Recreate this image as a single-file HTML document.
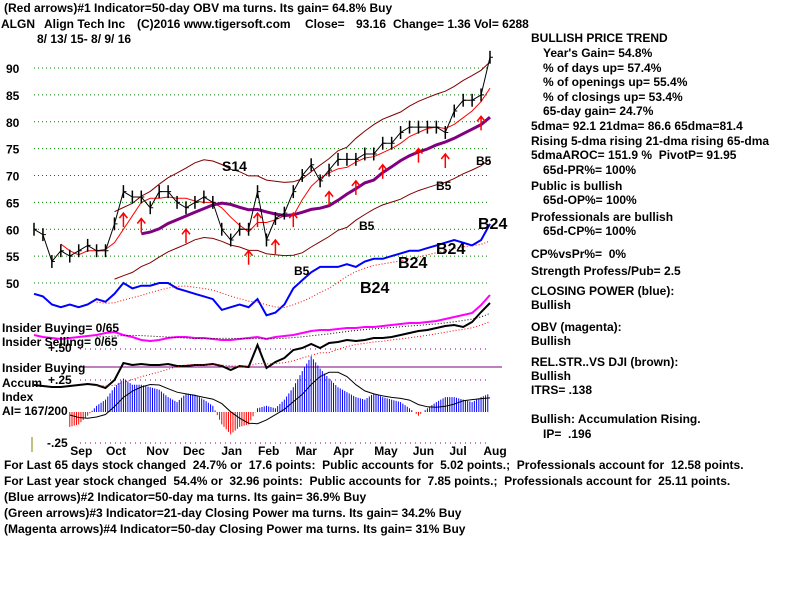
<!DOCTYPE html>
<html><head><meta charset="utf-8">
<style>
body{margin:0;background:#fff;}
svg text{font-family:"Liberation Sans",Arial,sans-serif;font-weight:bold;font-size:12px;fill:#000;white-space:pre;}
</style></head>
<body>
<svg id="c" width="800" height="600" viewBox="0 0 800 600" xmlns="http://www.w3.org/2000/svg" xml:space="preserve">
<rect width="800" height="600" fill="#fff"/>
<g>
<text x="4" y="12">(Red arrows)#1 Indicator=50-day OBV ma turns. Its gain= 64.8% Buy</text>
<text x="1" y="28">ALGN</text>
<text x="44" y="28">Align Tech Inc</text>
<text x="137" y="28">(C)2016 www.tigersoft.com</text>
<text x="305" y="28">Close=</text>
<text x="356" y="28">93.16</text>
<text x="393" y="28">Change= 1.36 Vol= 6288</text>
<text x="37" y="43">8/ 13/ 15- 8/ 9/ 16</text>
</g>
<g id="grid"></g>
<g id="marks"></g>
<g>
<text x="531" y="42">BULLISH PRICE TREND</text>
<text x="543" y="57">Year's Gain= 54.8%</text>
<text x="543" y="72">% of days up= 57.4%</text>
<text x="543" y="86">% of openings up= 55.4%</text>
<text x="543" y="101">% of closings up= 53.4%</text>
<text x="543" y="115">65-day gain= 24.7%</text>
<text x="531" y="130">5dma= 92.1 21dma= 86.6 65dma=81.4</text>
<text x="531" y="145">Rising 5-dma rising 21-dma rising 65-dma</text>
<text x="531" y="159">5dmaAROC= 151.9 %  PivotP= 91.95</text>
<text x="543" y="174">65d-PR%= 100%</text>
<text x="531" y="190">Public is bullish</text>
<text x="543" y="204">65d-OP%= 100%</text>
<text x="531" y="221">Professionals are bullish</text>
<text x="543" y="235">65d-CP%= 100%</text>
<text x="531" y="258">CP%vsPr%=  0%</text>
<text x="531" y="275">Strength Profess/Pub= 2.5</text>
<text x="531" y="295">CLOSING POWER (blue):</text>
<text x="531" y="309">Bullish</text>
<text x="531" y="331">OBV (magenta):</text>
<text x="531" y="345">Bullish</text>
<text x="531" y="366">REL.STR..VS DJI (brown):</text>
<text x="531" y="380">Bullish</text>
<text x="531" y="394">ITRS= .138</text>
<text x="531" y="423">Bullish: Accumulation Rising.</text>
<text x="543" y="438">IP=  .196</text>
</g>
<g>
<text x="4" y="469">For Last 65 days stock changed  24.7% or  17.6 points:  Public accounts for  5.02 points.;  Professionals account for  12.58 points.</text>
<text x="4" y="485">For Last year stock changed  54.4% or  32.96 points:  Public accounts for  7.85 points.;  Professionals account for  25.11 points.</text>
<text x="4" y="501">(Blue arrows)#2 Indicator=50-day ma turns. Its gain= 36.9% Buy</text>
<text x="4" y="517">(Green arrows)#3 Indicator=21-day Closing Power ma turns. Its gain= 34.2% Buy</text>
<text x="4" y="533">(Magenta arrows)#4 Indicator=50-day Closing Power ma turns. Its gain= 31% Buy</text>
</g>
</svg>
<script>
const months=["Sep","Oct","Nov","Dec","Jan","Feb","Mar","Apr","May","Jun","Jul","Aug"];
const priceTicks=[90,85,80,75,70,65,60,55,50];
const closes=[60,59,54,56,55,56,57,56,56,61,67,66,66,64,67,67,65,64,65,66,65,60,58,60,60,67,58,62,63,67,70,72,69,71,73,73,73,74,74,76,76,78,79,79,79,79,78,82,84,84,85,92];
const closingPower=[48,47.5,46,45.5,46,45.5,46,47,46.5,48,50,49,49.5,49.5,50,50,49,48.5,48,47.5,47,45,45.5,46,45.5,47,44,44.5,46,49,50.5,52,53,53,53,53.5,53,54,54.5,54.5,55,55.5,56,56,56.5,57,57.5,58,57.5,57,58,61];
const obv=[10,8,7,6,7,8,9,10,12,13,10,8,5,4,5,7,8,8,7,7,6,5,5,6,7,8,6,8,9,10,12,14,15,15,16,17,17,18,18,19,20,21,22,22,23,24,26,28,30,32,40,50];
const relStr=[15,14,13,13,14,15,16,15,12,20,37,35,36,35,35,36,34,34,35,35,36,34,30,34,33,55,32,38,42,50,52,56,52,57,58,60,59,60,62,62,63,65,67,69,70,72,74,75,73,78,88,97];
const accum=[0,0,0,0,-0.12,-0.1,-0.03,0.05,0.1,0.2,0.27,0.22,0.22,0.2,0.18,0.12,0.08,0.15,0.14,0.1,0.05,-0.1,-0.18,-0.12,-0.1,0.03,0.05,0.03,0.1,0.2,0.33,0.45,0.35,0.27,0.2,0.16,0.12,0.1,0.15,0.12,0.1,0.08,0.03,-0.03,0.03,0.08,0.12,0.12,0.1,0.08,0.12,0.15];
const upArrowIdx=[10,12,17,24,25,27,29,33,36,39,43,46,50];
const monthIdx=[5.4,9.4,13.9,18,22.3,26.4,30.6,34.8,39.4,43.7,47.8,51.6];

const NS="http://www.w3.org/2000/svg";
const marks=document.getElementById('marks');
const grid=document.getElementById('grid');
const X0=34,X1=490,n=closes.length;
function xs(i){return X0+(X1-X0)*i/(n-1);}
function yp(p){return 68+(90-p)*5.375;}
function yo(v){return 345-v;}
function yr(v){return 400-v;}
function ya(v){return 412-v*124;}
function el(tag,attrs,parent){const e=document.createElementNS(NS,tag);for(const k in attrs)e.setAttribute(k,attrs[k]);(parent||marks).appendChild(e);return e;}
function line(vals,fx,fy,stroke,w,dash){let d='';vals.forEach((v,i)=>{if(v==null)return;d+=(d?'L':'M')+fx(i).toFixed(1)+' '+fy(v).toFixed(1);});const p=el('path',{d:d,fill:'none',stroke:stroke,'stroke-width':w});if(dash)p.setAttribute('stroke-dasharray',dash);return p;}
function ma(vals,k){return vals.map((v,i)=>{if(i<k-1)return null;let s=0;for(let j=i-k+1;j<=i;j++)s+=vals[j];return s/k;});}

priceTicks.forEach(p=>{
 const l=el('line',{x1:34,x2:490,y1:yp(p),y2:yp(p),stroke:'#008000','stroke-dasharray':'1 3'},grid);
 
 
 const t=el('text',{x:6,y:yp(p)+5},grid);
 t.textContent=p;
 
 
});
[349,380,443].forEach(y=>{
 el('line',{x1:80,x2:490,y1:y,y2:y,stroke:'#800080','stroke-dasharray':'1 4'},grid);
});
el('line',{x1:80,x2:502,y1:367,y2:367,stroke:'#800080','stroke-width':1},grid);

const mid=ma(closes,10);
const up=mid.map(v=>v==null?null:v*1.11), lo=mid.map(v=>v==null?null:v*0.89);
const ub=line(up,xs,yp,'#800000',1);
const lb=line(lo,xs,yp,'#800000',1);
const m21=line(ma(closes,4),xs,yp,'#ff0000',1);
const m65=line(ma(closes,13),xs,yp,'#800080',3);

closes.forEach((c,i)=>{
 const b=el('line',{x1:xs(i),x2:xs(i),y1:yp(c+1.2),y2:yp(c-1.2),stroke:'#000','stroke-width':1.5});
 
 
 el('line',{x1:xs(i),x2:xs(i)+3,y1:yp(c),y2:yp(c),stroke:'#000'});
});
line(closes,xs,yp,'#000',1);

upArrowIdx.forEach(i=>{
 const x=xs(i),y=yp(closes[i]-4);
 const a=el('path',{d:`M${x} ${y+14}V${y}M${x-4} ${y+5}L${x} ${y}L${x+4} ${y+5}`,stroke:'#ff0000','stroke-width':1.5,fill:'none'});
 
 
});

const cp=line(closingPower,xs,yp,'#0000ff',2);
line(ma(closingPower,8),xs,yp,'#ff0000',1,'1 2');
const ob=line(obv,xs,yo,'#ff00ff',2);
line(ma(obv,8),xs,yo,'#000',1,'1 2');
const rs=line(relStr,xs,yr,'#000',2);
line(ma(relStr,8),xs,yr,'#ff0000',1,'1 2');

for(let i=4;i<n-1;i++){
 for(let s=0;s<4;s++){
  const f=s/4, v=accum[i]+(accum[i+1]-accum[i])*f, x=xs(i)+(xs(i+1)-xs(i))*f;
  el('line',{x1:x,x2:x,y1:ya(0),y2:ya(v),stroke:v<0?'#ff0000':'#0000ff','stroke-width':1});
 }
}
const am=line(ma(accum,5).map((v,i)=>i<4?null:v),xs,ya,'#000',1);

[["B24",360,293,16],["B24",398,268,16],["B24",436,254,16],["B24",478,229,16],["B5",294,275,12],["B5",359,230,12],["B5",436,190,12],["B5",476,165,12],["S14",222,171,14]].forEach(l=>{
 const t=el('text',{x:l[1],y:l[2]});t.textContent=l[0];t.setAttribute('style','font-size:'+l[3]+'px');
 
 
});
[["Insider Buying= 0/65",2,332],["Insider Selling= 0/65",2,346],["+.50",48,352],["Insider Buying",2,372],["Accum",2,387],["+.25",48,384],["Index",2,401],["AI= 167/200",2,415],["-.25",47,447]].forEach(l=>{
 const t=el('text',{x:l[1],y:l[2]});t.textContent=l[0];
 
 
});
el('line',{x1:32,x2:32,y1:437,y2:452,stroke:'#808000'});
months.forEach((m,i)=>{
 const t=el('text',{x:xs(monthIdx[i])-12,y:455});t.textContent=m;
 
 
});
</script>
</body></html>
